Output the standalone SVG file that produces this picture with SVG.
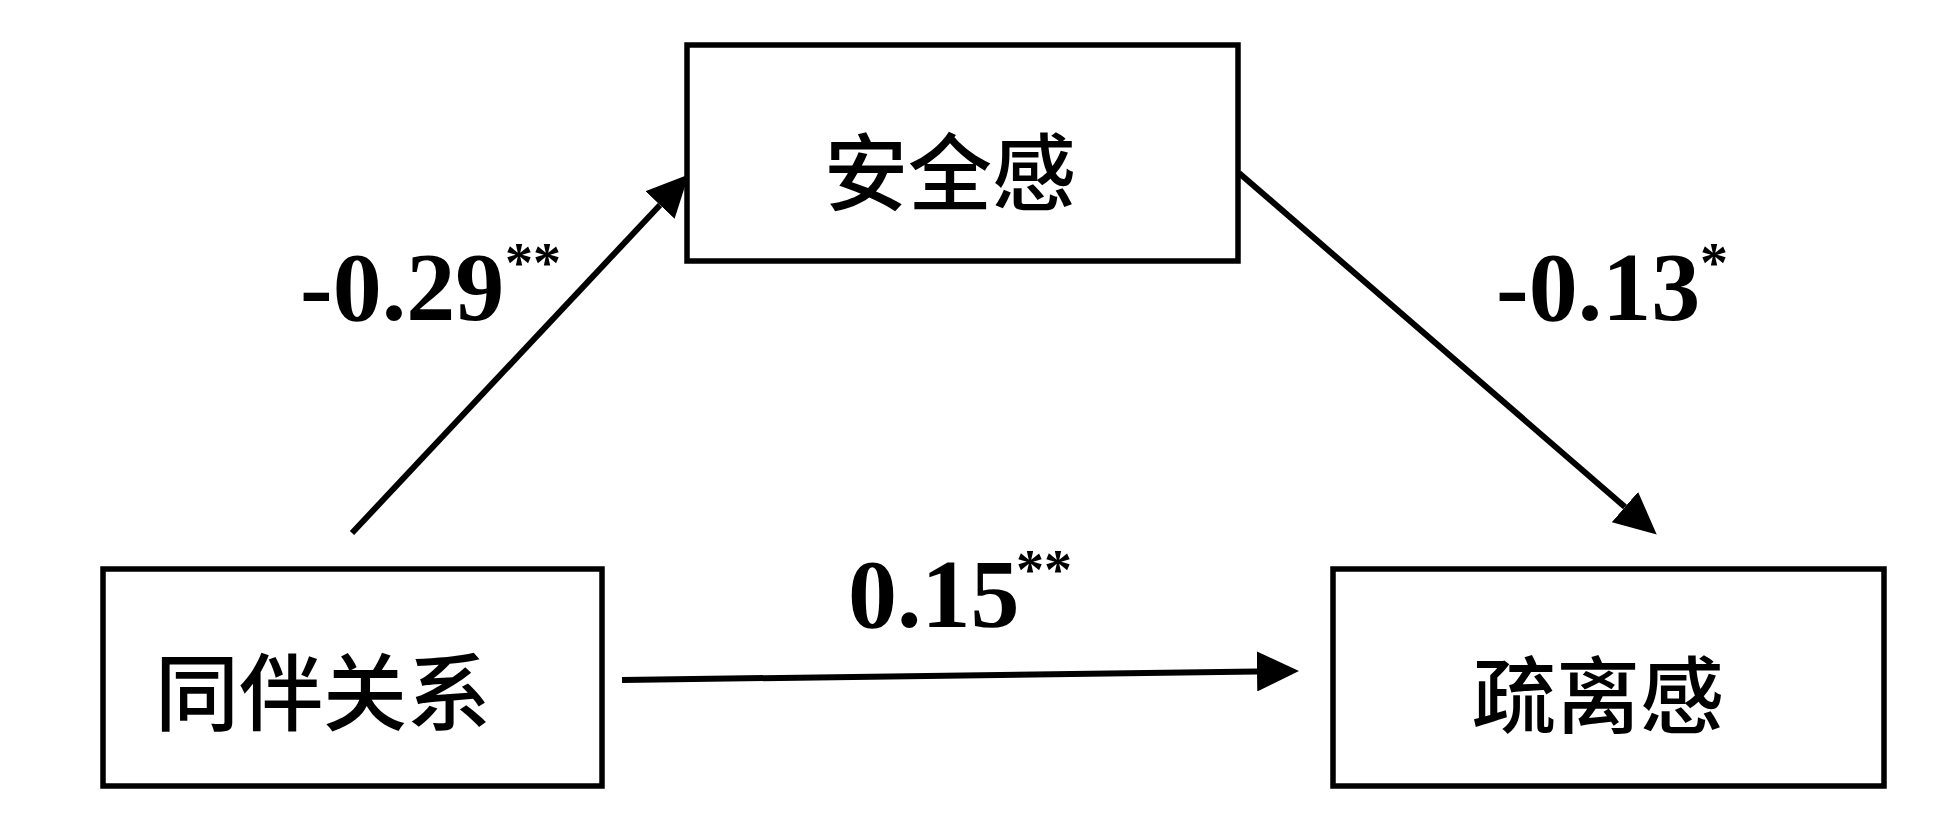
<svg xmlns="http://www.w3.org/2000/svg" width="1942" height="832" viewBox="0 0 1942 832">
<style>
.box{fill:#fff;stroke:#000;stroke-width:5.5}
.cjk{font-family:"Noto Sans CJK SC","Noto Sans",sans-serif;font-size:84px;font-weight:500;fill:#000;text-anchor:middle;dominant-baseline:central}
.num{font-family:"Liberation Serif","Times New Roman",serif;font-weight:bold;font-size:98px;fill:#000}
.sup{font-family:"Liberation Serif","Times New Roman",serif;font-weight:bold;font-size:56px;fill:#000}
.edge{fill:none;stroke:#000;stroke-width:6;marker-end:url(#arrow)}
</style>
<defs>
<marker id="arrow" markerUnits="userSpaceOnUse" viewBox="0 0 42 40" markerWidth="42" markerHeight="40" refX="0" refY="20" orient="auto">
<path d="M0,0 L42,20 L0,40 Z" fill="#000"/>
</marker>
</defs>
<rect width="1942" height="832" fill="#fff"/>
<g id="connectors">
<path class="edge" d="M352,533 L660,205"/>
<path class="edge" d="M1239,173 L1625,507"/>
<path class="edge" d="M622,680 L1257,671.5"/>
</g>
<g id="node-security">
<rect class="box" x="687" y="45" width="551" height="216"/>
<text class="cjk" x="950" y="167">安全感</text>
</g>
<g id="node-peer">
<rect class="box" x="103" y="569" width="499" height="217"/>
<text class="cjk" x="323" y="687">同伴关系</text>
</g>
<g id="node-alienation">
<rect class="box" x="1333" y="569" width="551" height="217"/>
<text class="cjk" x="1598" y="690">疏离感</text>
</g>
<g id="labels">
<text class="num" x="300" y="320">-0.29</text><text class="sup" x="505" y="282">**</text>
<text class="num" x="1496" y="320">-0.13</text><text class="sup" x="1700" y="282">*</text>
<text class="num" x="848" y="627">0.15</text><text class="sup" x="1016" y="589">**</text>
</g>
</svg>
